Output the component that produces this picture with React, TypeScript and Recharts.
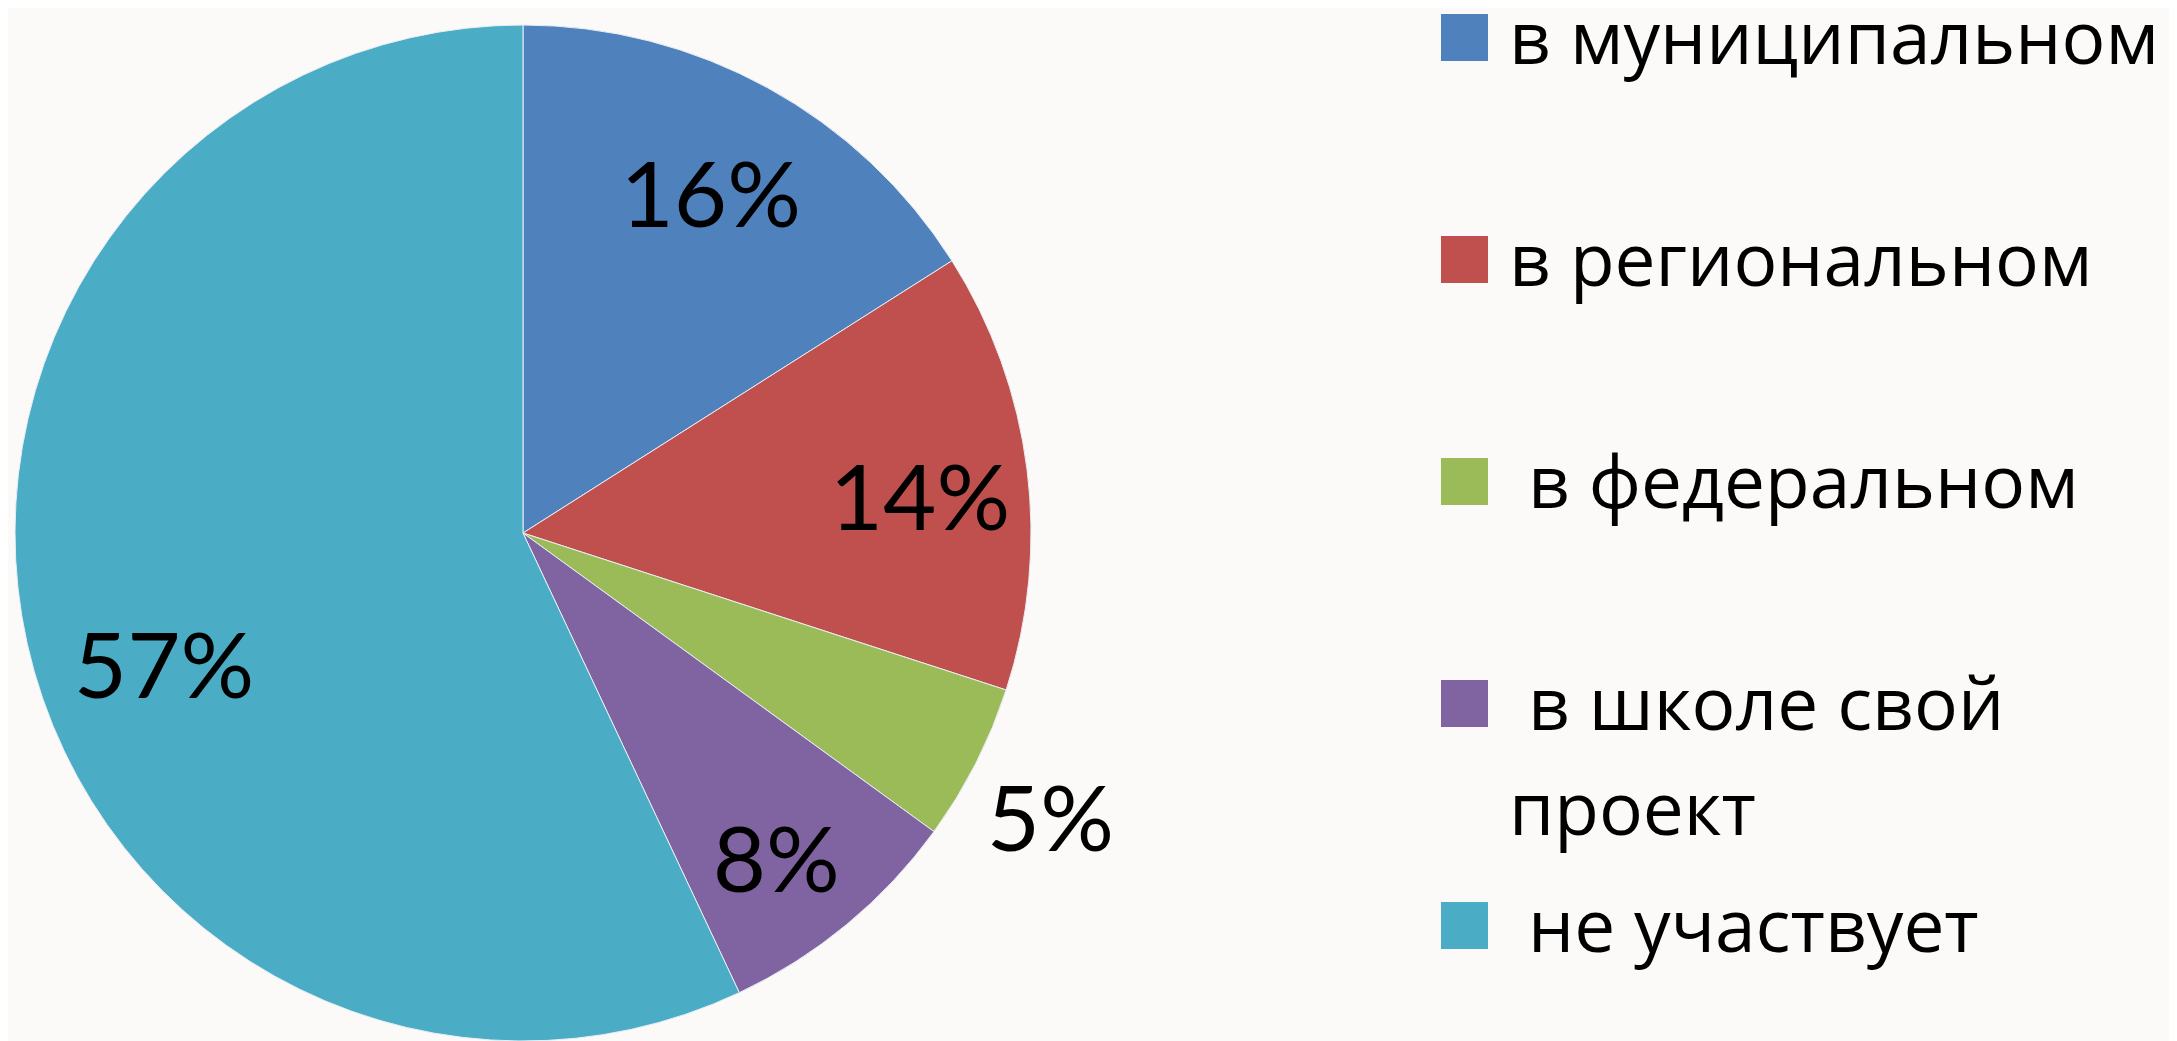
import React from 'react';
import { PieChart, Pie, Cell, Legend } from 'recharts';

const categories = ['в муниципальном', 'в региональном', ' в федеральном', ' в школе свой проект', ' не участвует'];
const values = [16, 14, 5, 8, 57];
const colors = ['#4F81BD', '#C0504D', '#9BBB59', '#8064A2', '#4BACC6'];
const labelTexts = ['16%', '14%', '5%', '8%', '57%'];
// label placement style: radius ratio and angle shift per slice
const labelRadiusRatio = [0.767, 0.785, 1.178, 0.808, 0.751];
const labelAngleShift = [0, -1.7, -1.2, -1.5, 7.2];

const data = categories.map((name, i) => ({ name, value: values[i] }));

const RAD = Math.PI / 180;

const renderLabel = (props: any) => {
  const { cx, cy, midAngle, outerRadius, index } = props;
  const r = outerRadius * labelRadiusRatio[index];
  const a = (midAngle + labelAngleShift[index]) * RAD;
  const x = cx + r * Math.cos(-a);
  const y = cy + r * Math.sin(-a);
  return (
    <text
      x={x}
      y={y}
      textAnchor="middle"
      dominantBaseline="central"
      fill="#000"
      style={{ fontFamily: 'Lato, sans-serif', fontSize: 92 }}
    >
      {labelTexts[index]}
    </text>
  );
};

const renderLegend = (props: any) => {
  const payload = [...(props.payload || [])].sort(
    (a: any, b: any) => categories.indexOf(a.value) - categories.indexOf(b.value)
  );
  return (
    <div style={{ position: 'relative' }}>
      {payload.map((entry: any, i: number) => (
        <div key={i} style={{ position: 'relative', height: 222 }}>
          <div
            style={{
              position: 'absolute',
              left: 0,
              top: 0,
              width: 47,
              height: 47,
              background: entry.color,
            }}
          />
          <div
            style={{
              position: 'absolute',
              left: 68,
              top: -31,
              width: 690,
              fontFamily: '"Open Sans", sans-serif',
              fontSize: 73,
              lineHeight: '105px',
              color: '#000',
              whiteSpace: 'pre-wrap',
            }}
          >
            {entry.value}
          </div>
        </div>
      ))}
    </div>
  );
};

export default function App() {
  return (
    <div
      style={{
        margin: '-8px 0 0 -8px',
        width: 2177,
        height: 1041,
        background: '#FBFAF8',
        position: 'relative',
        overflow: 'hidden',
      }}
    >
      <PieChart width={2177} height={1041} margin={{ top: 0, right: 0, bottom: 0, left: 0 }}>
        <Pie
          data={data}
          dataKey="value"
          nameKey="name"
          cx={523}
          cy={533}
          outerRadius={508}
          startAngle={90}
          endAngle={-270}
          stroke="#E8EEF4"
          strokeWidth={1}
          isAnimationActive={false}
          label={renderLabel}
          labelLine={false}
        >
          {data.map((d, i) => (
            <Cell key={d.name} fill={colors[i]} />
          ))}
        </Pie>
        <Legend
          content={renderLegend}
          layout="vertical"
          verticalAlign="top"
          align="right"
          wrapperStyle={{ position: 'absolute', left: 1441, top: 14, width: 736 }}
        />
      </PieChart>
    </div>
  );
}
